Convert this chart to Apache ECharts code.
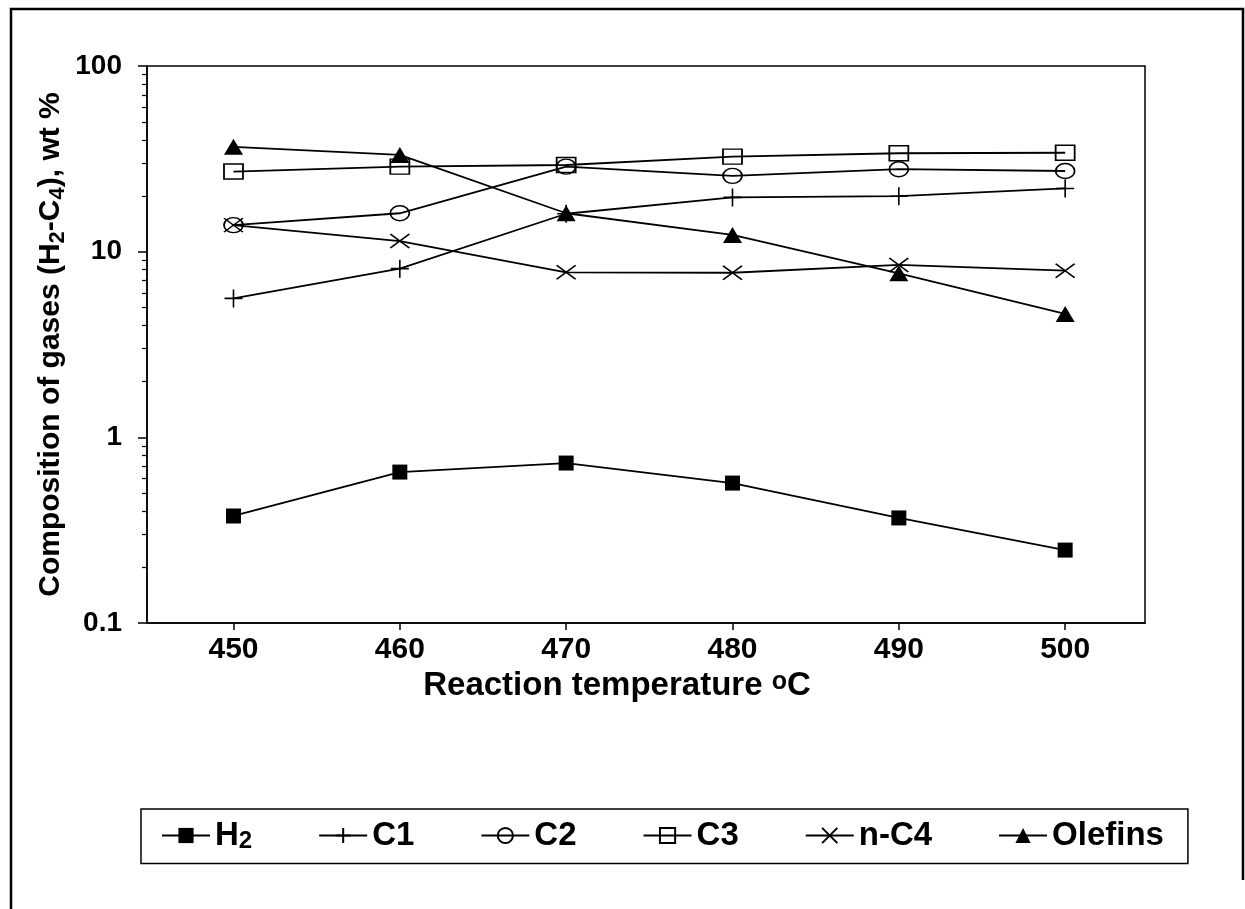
<!DOCTYPE html>
<html>
<head>
<meta charset="utf-8">
<script src="https://cdn.jsdelivr.net/npm/echarts@6/dist/echarts.min.js"></script>
<style>
  html, body { margin: 0; padding: 0; background: #fff; }
  #chart { width: 1245px; height: 909px; }
</style>
</head>
<body>
<div id="chart"></div>
<script>
// Reaction temperature, °C
const temperatures = [450, 460, 470, 480, 490, 500];

// Composition of gases, wt %
const h2 = [0.377, 0.65, 0.727, 0.567, 0.368, 0.247];
const c1 = [5.6, 8.1, 16.0, 19.6, 19.9, 21.9];
const c2 = [13.9, 16.1, 28.7, 25.6, 27.8, 27.2];
const c3 = [27.0, 28.7, 29.3, 32.5, 33.9, 34.1];
const nC4 = [13.9, 11.4, 7.74, 7.7, 8.48, 7.9];
const olefins = [36.7, 33.2, 16.1, 12.3, 7.64, 4.62];

// axis ticks
const xTicks = [450, 460, 470, 480, 490, 500];
const yMinorTicks = [0.2, 0.3, 0.4, 0.5, 0.6, 0.7, 0.8, 0.9,
  2, 3, 4, 5, 6, 7, 8, 9, 20, 30, 40, 50, 60, 70, 80, 90];

const FONT = '"Liberation Sans", Arial, Helvetica, sans-serif';
const INK = '#000';

const chart = echarts.init(document.getElementById('chart'));

const seriesDefs = [
  { name: 'H2', values: h2, symbol: 'rect', size: [15, 15], filled: true },
  { name: 'C1', values: c1, symbol: 'path://M0,5L10,5M5,0L5,10', size: [18, 18] },
  { name: 'C2', values: c2, symbol: 'path://M0,6A10,6 0 1,1 20,6A10,6 0 1,1 0,6Z', size: [19, 15] },
  { name: 'C3', values: c3, symbol: 'rect', size: [19, 15] },
  { name: 'n-C4', values: nC4, symbol: 'path://M0,0L10,10M10,0L0,10', size: [19, 14] },
  { name: 'Olefins', values: olefins, symbol: 'triangle', size: [19, 16], filled: true },
];

const series = seriesDefs.map(def => ({
  name: def.name,
  type: 'line',
  xAxisIndex: 0,
  yAxisIndex: 0,
  data: temperatures.map((t, i) => [t, def.values[i]]),
  symbol: def.symbol,
  symbolSize: def.size,
  showAllSymbol: true,
  lineStyle: { color: INK, width: 1.8 },
  itemStyle: {
    color: def.filled ? INK : 'rgba(0,0,0,0)',
    borderColor: INK,
    borderWidth: def.filled ? 0 : 1.6,
  },
  emphasis: { disabled: true },
  z: 3,
}));

const labelStyle = { fontFamily: FONT, fontWeight: 'bold', fontSize: 28, color: INK };

chart.setOption({
  animation: false,
  backgroundColor: '#fff',
  grid: {
    left: 147, top: 66, right: 100, bottom: 286,
    show: true, borderColor: INK, borderWidth: 1.5, backgroundColor: 'transparent',
  },
  xAxis: {
    type: 'value',
    min: 444.8,
    max: 504.8,
    axisLine: { onZero: false, lineStyle: { color: INK, width: 1.5 } },
    axisTick: { show: true, inside: false, length: 7, lineStyle: { color: INK, width: 1.5 }, customValues: xTicks },
    axisLabel: { ...labelStyle, fontSize: 30, margin: 12, customValues: xTicks },
    splitLine: { show: false },
    name: 'Reaction temperature {sup|o}C',
    nameLocation: 'middle',
    nameGap: 40,
    nameTextStyle: {
      ...labelStyle,
      fontSize: 33,
      padding: [0, 58, 0, 0],
      rich: {
        sup: { fontFamily: FONT, fontWeight: 'bold', fontSize: 25, lineHeight: 24, verticalAlign: 'top', color: INK },
      },
    },
  },
  yAxis: [
    {
      type: 'log',
      logBase: 10,
      min: 0.1,
      max: 100,
      axisLine: { show: true, onZero: false, lineStyle: { color: INK, width: 1.5 } },
      axisTick: { show: true, inside: false, length: 9, lineStyle: { color: INK, width: 1.5 } },
      axisLabel: { ...labelStyle, margin: 25 },
      splitLine: { show: false },
      name: 'Composition of gases (H{sub|2}-C{sub|4}), wt %',
      nameLocation: 'middle',
      nameGap: 78,
      nameMoveOverlap: false,
      nameTextStyle: {
        ...labelStyle,
        fontSize: 30,
        lineHeight: 36,
        rich: {
          sub: { fontFamily: FONT, fontWeight: 'bold', fontSize: 22, lineHeight: 22, verticalAlign: 'bottom', color: INK },
        },
      },
    },
    {
      // minor ticks of the log axis, on a linear axis in decades
      type: 'value',
      min: -1,
      max: 2,
      position: 'left',
      axisLine: { show: false, onZero: false },
      axisTick: {
        show: true, inside: false, length: 5, lineStyle: { color: INK, width: 1.2 },
        customValues: yMinorTicks.map(v => Math.log10(v)),
      },
      axisLabel: { show: false },
      splitLine: { show: false },
    },
  ],
  legend: {
    left: 141,
    top: 809,
    orient: 'horizontal',
    itemWidth: 48,
    itemHeight: 19,
    itemGap: 66,
    padding: [10, 24, 10, 20],
    borderColor: INK,
    borderWidth: 1.5,
    selectedMode: false,
    data: seriesDefs.map(d => d.name),
    formatter: name => (name === 'H2' ? '{n|H}{s|2}' : `{n|${name}}`),
    textStyle: {
      ...labelStyle,
      rich: {
        n: { fontFamily: FONT, fontWeight: 'bold', fontSize: 33, lineHeight: 36, color: INK },
        s: { fontFamily: FONT, fontWeight: 'bold', fontSize: 24, lineHeight: 24, verticalAlign: 'bottom', color: INK },
      },
    },
  },
  graphic: [
    {
      type: 'polyline',
      silent: true,
      shape: { points: [[11, 909], [11, 9], [1243, 9], [1243, 880]] },
      style: { stroke: INK, lineWidth: 2.5, fill: null },
    },
  ],
  series,
});
</script>
</body>
</html>
